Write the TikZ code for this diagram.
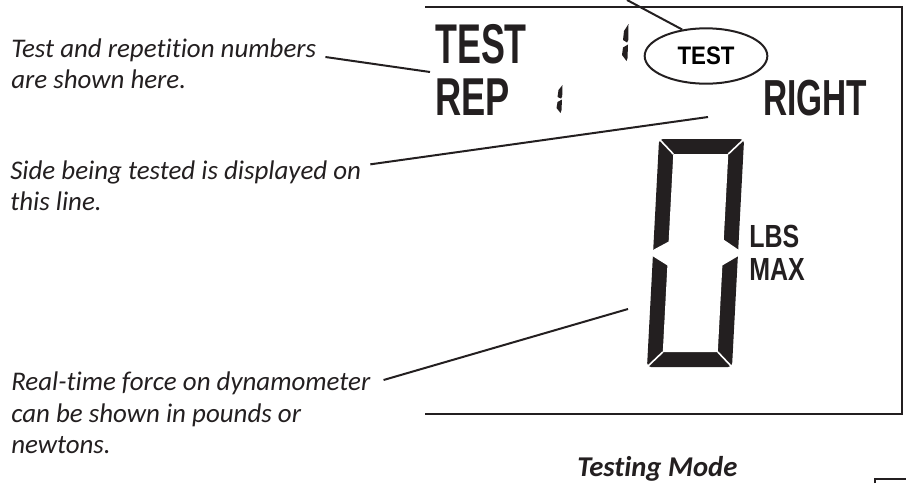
\documentclass[tikz,border=0pt]{standalone}
\usepackage{graphicx}
\usepackage{fontspec}
\setmainfont{Carlito}[Ligatures=NoCommon]
\newfontfamily\lcdfont{Liberation Sans}
\usetikzlibrary{shapes.geometric}
\definecolor{ink}{HTML}{231F20}

\tikzset{
  callout/.style={font=\itshape\fontsize{20.2}{24}\selectfont, anchor=base west, inner sep=0pt, text=ink},
  leader/.style={draw=ink, line width=1.5pt},
  lcd/.style={anchor=base west, inner sep=0pt, text=ink},
}

\begin{document}
\begin{tikzpicture}[x=0.75pt, y=-0.75pt]
  \useasboundingbox (0,0) rectangle (906,483);
  % display frame, open on the left
  \draw[ink, line width=2pt] (425,7) -- (902,7) -- (902,414) -- (425,414);

  % display words
  \node[lcd] (testword) at (435,63) {\lcdfont\bfseries\fontsize{42}{42}\selectfont\scalebox{0.64}[1]{TEST}};
  \node[lcd] (repword) at (435,115) {\lcdfont\bfseries\fontsize{40}{40}\selectfont\scalebox{0.68}[1]{REP}};
  \node[lcd] (sideword) at (763,115) {\lcdfont\bfseries\fontsize{38}{38}\selectfont\scalebox{0.66}[1]{RIGHT}};
  \node[lcd] (unitword) at (749,247) {\lcdfont\bfseries\fontsize{24}{24}\selectfont\scalebox{0.78}[1]{LBS}};
  \node[lcd] (maxword) at (749,280) {\lcdfont\bfseries\fontsize{24}{24}\selectfont\scalebox{0.78}[1]{MAX}};
  \node[ellipse, draw=ink, line width=1.5pt, minimum width=92pt, minimum height=41.5pt, inner sep=0pt]
    (tagtest) at (706,56) {\lcdfont\bfseries\fontsize{19}{19}\selectfont\scalebox{0.88}[1]{TEST}};

  % small digit "1" after TEST and REP
  \fill[ink] (628.5,24) -- (624,31) -- (623,40) -- (627,42.5) -- (628.3,40) -- cycle;
  \fill[ink] (628,44.5) -- (623,47.5) -- (622,55) -- (626.5,61) -- (627.5,58) -- cycle;
  \fill[ink] (562.5,85) -- (558.5,90) -- (557.5,97) -- (561,98.5) -- (562.2,96.5) -- cycle;
  \fill[ink] (562,99.5) -- (557.5,102) -- (556.5,108) -- (560.5,113) -- (561.5,110) -- cycle;

  % large digit 0
  \begin{scope}[shift={(647,367)}, xslant=0.053]
    \fill[ink, rounded corners=3pt] (0,0) -- (85,0) -- (85,-228) -- (0,-228) -- cycle;
    \fill[white] (15,-15) -- (70,-15) -- (70,-213) -- (15,-213) -- cycle;
    \draw[white, line width=1.2pt] (-2,2) -- (15,-15) (87,2) -- (70,-15)
      (87,-230) -- (70,-213) (-2,-230) -- (15,-213);
    \fill[white] (-3,-112.5) -- (16,-101) -- (16,-126) -- (-3,-115.5) -- cycle;
    \fill[white] (88,-112.5) -- (69,-101) -- (69,-128) -- (88,-115.5) -- cycle;
  \end{scope}

  % notes
  \node[callout] (testnote) at (11,57) {Test and repetition numbers};
  \node[callout] (testnote2) at (11,88) {are shown here.};
  \node[callout] (sidenote) at (10,179) {Side being tested is displayed on};
  \node[callout] (sidenote2) at (10,210) {this line.};
  \node[callout] (forcenote) at (11,390) {Real-time force on dynamometer};
  \node[callout] (forcenote2) at (11,422) {can be shown in pounds or};
  \node[callout] (forcenote3) at (11,453) {newtons.};
  \node[callout, font=\bfseries\itshape\fontsize{21.5}{25}\selectfont] (modetitle) at (577,476) {Testing Mode};

  % leaders
  \coordinate (repmark) at (430,72);
  \coordinate (sidemark) at (708,117);
  \coordinate (digitmark) at (628,309);
  \coordinate (tagfree) at (627,0);
  \draw[leader] ([xshift=6.75pt]testnote.base east) -- (repmark);
  \draw[leader] ([xshift=6.75pt, yshift=11pt]sidenote.base east) -- (sidemark);
  \draw[leader] ([xshift=9.75pt, yshift=7.5pt]forcenote.base east) -- (digitmark);
  \draw[leader] (tagfree) -- (tagtest.132);

  % corner of the next panel
  \draw[ink, line width=1.5pt] (875,483) -- (875,479) -- (906,479);
\end{tikzpicture}
\end{document}
